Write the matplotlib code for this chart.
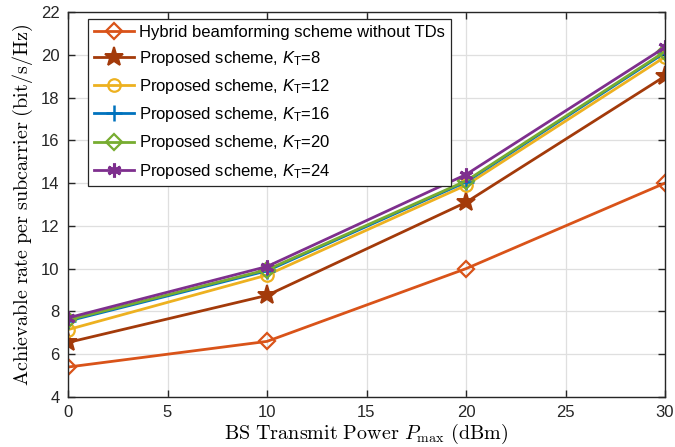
import matplotlib
matplotlib.use("Agg")
import matplotlib.pyplot as plt
from matplotlib.font_manager import FontProperties

plt.rcParams['mathtext.fontset'] = 'cm'
plt.rcParams['mathtext.rm'] = 'Liberation Sans'
plt.rcParams['mathtext.it'] = 'Liberation Sans:italic'
plt.rcParams['mathtext.bf'] = 'Liberation Sans:bold'

power_dbm = [0, 10, 20, 30]
rate_no_td = [5.4, 6.6, 10.0, 14.0]
rate_kt8 = [6.55, 8.75, 13.1, 19.0]
rate_kt12 = [7.15, 9.7, 13.9, 19.9]
rate_kt16 = [7.55, 9.9, 14.05, 20.1]
rate_kt20 = [7.6, 9.95, 14.1, 20.15]
rate_kt24 = [7.7, 10.1, 14.4, 20.35]

labels = [
    "Hybrid beamforming scheme without TDs",
    r"Proposed scheme, $K_{\mathrm{T}}$=8",
    r"Proposed scheme, $K_{\mathrm{T}}$=12",
    r"Proposed scheme, $K_{\mathrm{T}}$=16",
    r"Proposed scheme, $K_{\mathrm{T}}$=20",
    r"Proposed scheme, $K_{\mathrm{T}}$=24",
]
xticks = [0, 5, 10, 15, 20, 25, 30]
yticks = [4, 6, 8, 10, 12, 14, 16, 18, 20, 22]

series = [rate_no_td, rate_kt8, rate_kt12, rate_kt16, rate_kt20, rate_kt24]
colors = ["#D95319", "#A33A0A", "#EDB120", "#0072BD", "#77AC30", "#7E2F8E"]
markers = ["D", "*", "o", "+", "D", (6, 2, 0)]
msizes = [8, 14, 9, 11, 8, 10]
mews = [1.6, 1.4, 1.6, 1.8, 1.6, 2.2]

fig = plt.figure(figsize=(6.75, 4.47), dpi=100)
ax = fig.add_axes([68 / 675, 50 / 447, 597 / 675, 385 / 447])

for y, c, m, ms, mew, lab in zip(series, colors, markers, msizes, mews, labels):
    face = c if m == "*" else "none"
    ax.plot(power_dbm, y, color=c, marker=m, markersize=ms,
            markerfacecolor=face, markeredgecolor=c, markeredgewidth=mew,
            linewidth=2.0, label=lab)

ax.set_xlim(0, 30)
ax.set_ylim(4, 22)
ax.set_xticks(xticks)
ax.set_yticks(yticks)
ax.grid(True, color="#DFDFDF", linewidth=0.9)
ax.set_axisbelow(True)
ax.tick_params(direction="in", top=True, right=True, length=5, width=1,
               labelsize=12, colors="#262626", pad=6)
for lbl in ax.get_xticklabels() + ax.get_yticklabels():
    lbl.set_family("Liberation Sans")
for sp in ax.spines.values():
    sp.set_color("#262626")
    sp.set_linewidth(1.0)

ax.set_xlabel(r"$\mathrm{BS\ Transmit\ Power}\ P_{\mathrm{max}}\ \mathrm{(dBm)}$",
              fontsize=14.5, labelpad=1)
ax.set_ylabel(r"$\mathrm{Achievable\ rate\ per\ subcarrier\ (bit/s/Hz)}$",
              fontsize=14.5, labelpad=4)
# axis labels keep Computer Modern; legend math uses the sans face
ax.xaxis.label.set_math_fontfamily('cm')
ax.yaxis.label.set_math_fontfamily('cm')

leg_font = FontProperties(family="Liberation Sans", size=12, math_fontfamily='custom')
leg = ax.legend(loc="upper left", bbox_to_anchor=(0.033, 0.982),
                prop=leg_font, fancybox=False, edgecolor="#262626", framealpha=1,
                handlelength=2.4, borderpad=0.35, labelspacing=0.55,
                handletextpad=0.35, borderaxespad=0.0)
leg.get_frame().set_linewidth(0.9)

fig.savefig("out.png", dpi=100)
